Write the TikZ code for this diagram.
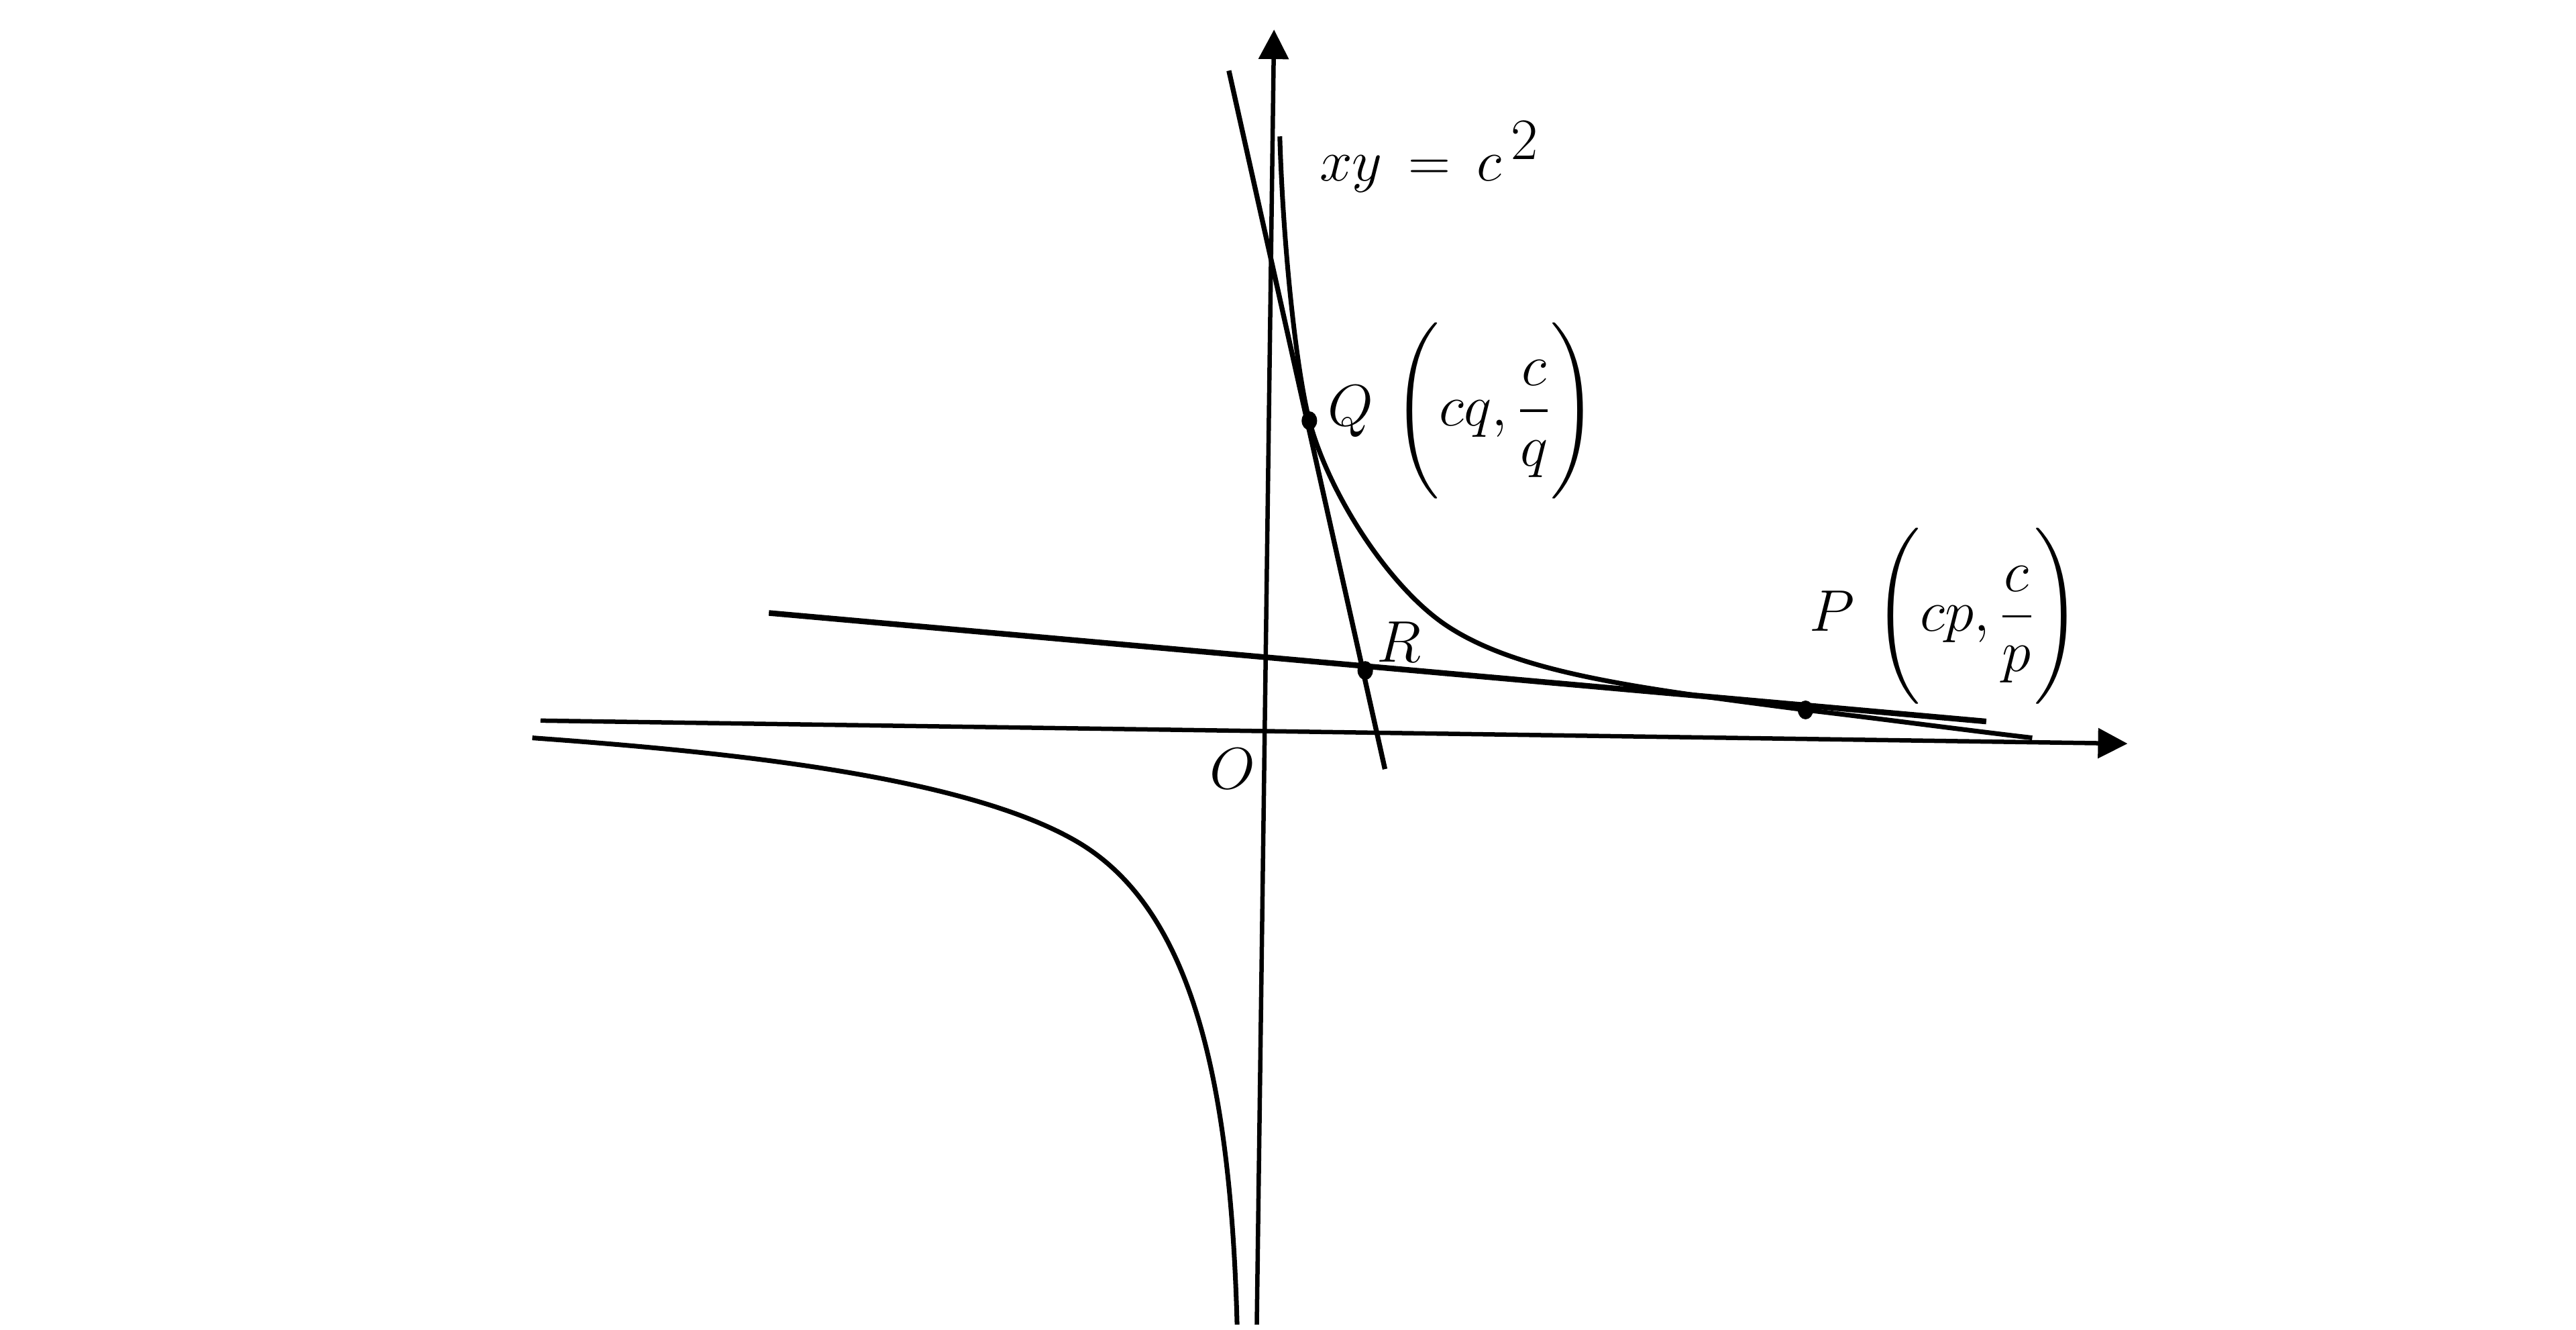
\documentclass[tikz,border=0pt]{standalone}
\usepackage{amsmath}
\usetikzlibrary{arrows.meta,shapes.geometric}
\newcommand{\tallstrut}{\vrule height 42pt depth 26pt width 0pt}
\begin{document}
\begin{tikzpicture}[x=0.024490cm,y=-0.024490cm,
 axisline/.style={line width=1.85pt,-{Triangle[length=0.44cm,width=0.44cm]}},
 branch/.style={line width=2pt},
 tangentP/.style={line width=2.4pt},
 tangentQ/.style={line width=2.1pt},
 ptdot/.style={ellipse,fill=black,inner sep=0pt,minimum width=0.23cm,minimum height=0.28cm},
 lbl/.style={inner sep=0pt,font=\fontsize{33}{40}\selectfont}]
\useasboundingbox (0,0) rectangle (1568,809);
% axes
\coordinate (xs) at (329,438.5);
\coordinate (xe) at (1295,452.5);
\coordinate (ys) at (765,806);
\coordinate (ye) at (775.5,18);
\draw[axisline] (xs) -- (xe);
\draw[axisline] (ys) -- (ye);
% points
\coordinate (Qc) at (797,256);
\coordinate (Pc) at (1099,432);
% hyperbola branches
\draw[branch] (779,83) .. controls (781,150) and (789,225) .. (Qc)
  .. controls (809,301) and (846,358) .. (881,381)
  .. controls (925,410) and (999,419) .. (Pc)
  .. controls (1150,438) and (1190,443.5) .. (1237,449);
\draw[branch] (324,449) .. controls (434,457) and (587,471) .. (657,513)
  .. controls (725,554) and (749,656) .. (753,806);
\node[ptdot] (Q) at (Qc) {};
\node[ptdot] (R) at (831,408) {};
\node[ptdot] (P) at (Pc) {};
% tangent lines
\coordinate (qa) at (748,43);
\coordinate (qb) at (843,468);
\coordinate (pa) at (468,373);
\coordinate (pb) at (1209,439);
\draw[tangentQ] (qa) -- (qb);
\draw[tangentP] (pa) -- (pb);
% labels
\node[lbl,anchor=base west] (eq) at (803,110) {$\thickmuskip=8mu xy=c^{\,2}$};
\node[lbl,anchor=west] (Ql) at (808,250) {$Q\,\left(\tallstrut cq,\dfrac{c}{q}\right)$};
\node[lbl,anchor=west] (Pl) at (1101,375) {$P\,\left(\tallstrut cp,\dfrac{c}{p}\right)$};
\node[lbl,anchor=base west] (Rl) at (838,403) {$R$};
\node[lbl,anchor=base west] (Ol) at (736,480) {$O$};
\end{tikzpicture}
\end{document}
